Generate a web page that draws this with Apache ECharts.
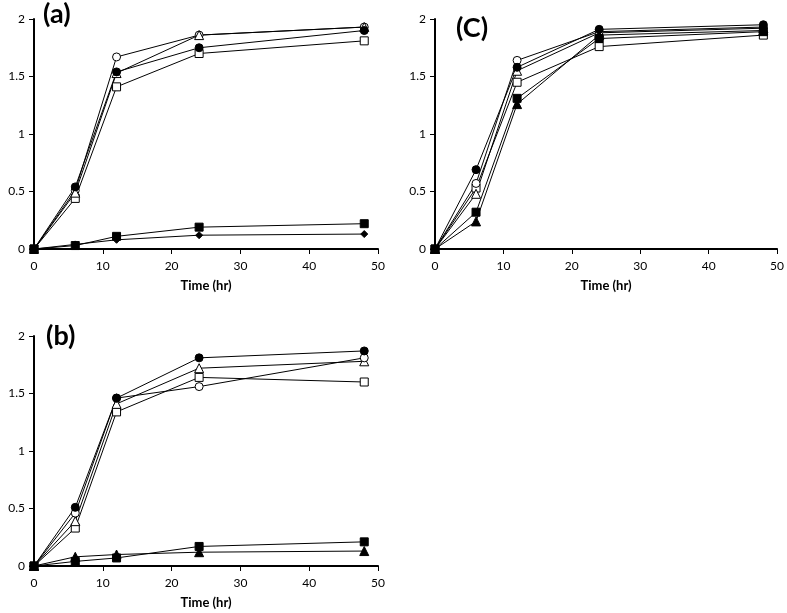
<!DOCTYPE html>
<html><head><meta charset="utf-8">
<script src="https://cdn.jsdelivr.net/npm/echarts@6/dist/echarts.min.js"></script>
<style>html,body{margin:0;padding:0;background:#fff}#c{width:787px;height:613px}</style>
</head><body><div id="c"></div>
<script>
const times = [0, 6, 12, 24, 48];
const xTicks = [0, 10, 20, 30, 40, 50];
const yTicks = [0, 0.5, 1, 1.5, 2];
const panelLabels = ['(a)', '(C)', '(b)'];
const xName = 'Time (hr)';

// Panel (a)
const a_openCircle   = [0, 0.51, 1.67, 1.86, 1.93];
const a_openTriangle = [0, 0.49, 1.53, 1.86, 1.93];
const a_filledCircle = [0, 0.54, 1.54, 1.75, 1.90];
const a_openSquare   = [0, 0.44, 1.41, 1.70, 1.81];
const a_filledSquare = [0, 0.03, 0.11, 0.19, 0.22];
const a_diamond      = [0, 0.04, 0.08, 0.12, 0.13];

// Panel (C)
const c_filledCircle   = [0, 0.69, 1.58, 1.91, 1.95];
const c_openCircle     = [0, 0.57, 1.64, 1.89, 1.93];
const c_openTriangle   = [0, 0.48, 1.55, 1.88, 1.92];
const c_openSquare     = [0, 0.53, 1.45, 1.76, 1.86];
const c_filledSquare   = [0, 0.32, 1.31, 1.83, 1.89];
const c_filledTriangle = [0, 0.24, 1.26, 1.86, 1.90];

// Panel (b)
const b_filledCircle   = [0, 0.51, 1.46, 1.81, 1.87];
const b_openCircle     = [0, 0.46, 1.46, 1.56, 1.81];
const b_openTriangle   = [0, 0.39, 1.41, 1.72, 1.78];
const b_openSquare     = [0, 0.33, 1.34, 1.64, 1.60];
const b_filledSquare   = [0, 0.04, 0.07, 0.17, 0.21];
const b_filledTriangle = [0, 0.08, 0.10, 0.12, 0.13];

const FONT = 'Lato, "Open Sans", sans-serif';
const styles = {
  openCircle:     {symbol: 'circle',   size: 8, fill: '#fff'},
  filledCircle:   {symbol: 'circle',   size: 8, fill: '#000'},
  openTriangle:   {symbol: 'triangle', size: 9, fill: '#fff'},
  filledTriangle: {symbol: 'triangle', size: 9, fill: '#000'},
  openSquare:     {symbol: 'rect',     size: 8, fill: '#fff'},
  filledSquare:   {symbol: 'rect',     size: 8, fill: '#000'},
  diamond:        {symbol: 'diamond',  size: 7, fill: '#000'}
};
function mk(vals, kind, idx) {
  const s = styles[kind];
  return {
    type: 'line', xAxisIndex: idx, yAxisIndex: idx,
    data: times.map((t, i) => [t, vals[i]]),
    symbol: s.symbol, symbolSize: s.size, showAllSymbol: true,
    itemStyle: {color: s.fill, borderColor: '#000', borderWidth: 1},
    lineStyle: {color: '#000', width: 1},
    emphasis: {disabled: true}, silent: true, animation: false, z: 3
  };
}
const grids = [
  {left: 34, top: 19, width: 344, height: 230},
  {left: 435, top: 19, width: 343, height: 230},
  {left: 34, top: 336, width: 344, height: 230}
];
const xAxes = grids.map((g, i) => ({
  type: 'value', gridIndex: i, min: xTicks[0], max: xTicks[xTicks.length - 1], interval: 10,
  name: xName, nameLocation: 'middle', nameGap: 30,
  nameTextStyle: {fontFamily: FONT, fontWeight: 'bold', fontSize: 13, color: '#000'},
  axisLine: {lineStyle: {color: '#000', width: 2}},
  axisTick: {show: true, inside: false, length: 5, lineStyle: {color: '#000', width: 1}},
  axisLabel: {fontFamily: FONT, fontSize: 12, color: '#000', margin: 11},
  splitLine: {show: false}
}));
const yAxes = grids.map((g, i) => ({
  type: 'value', gridIndex: i, min: yTicks[0], max: yTicks[yTicks.length - 1], interval: 0.5,
  axisLine: {show: true, lineStyle: {color: '#000', width: 2}},
  axisTick: {show: true, inside: false, length: 5, lineStyle: {color: '#000', width: 1}},
  axisLabel: {fontFamily: FONT, fontSize: 12, color: '#000', margin: 9},
  splitLine: {show: false}
}));
const series = [
  mk(a_openSquare, 'openSquare', 0),
  mk(a_openCircle, 'openCircle', 0),
  mk(a_openTriangle, 'openTriangle', 0),
  mk(a_filledCircle, 'filledCircle', 0),
  mk(a_diamond, 'diamond', 0),
  mk(a_filledSquare, 'filledSquare', 0),

  mk(c_openSquare, 'openSquare', 1),
  mk(c_openTriangle, 'openTriangle', 1),
  mk(c_openCircle, 'openCircle', 1),
  mk(c_filledTriangle, 'filledTriangle', 1),
  mk(c_filledSquare, 'filledSquare', 1),
  mk(c_filledCircle, 'filledCircle', 1),

  mk(b_openSquare, 'openSquare', 2),
  mk(b_openTriangle, 'openTriangle', 2),
  mk(b_openCircle, 'openCircle', 2),
  mk(b_filledTriangle, 'filledTriangle', 2),
  mk(b_filledSquare, 'filledSquare', 2),
  mk(b_filledCircle, 'filledCircle', 2)
];
const chart = echarts.init(document.getElementById('c'), null, {renderer: 'canvas'});
chart.setOption({
  backgroundColor: '#fff',
  animation: false,
  grid: grids,
  xAxis: xAxes,
  yAxis: yAxes,
  series: series,
  graphic: [
    {type: 'text', left: 43, top: 1, style: {text: panelLabels[0], font: 'bold 27px ' + FONT, fill: '#000'}},
    {type: 'text', left: 456, top: 15, style: {text: panelLabels[1], font: 'bold 27px ' + FONT, fill: '#000'}},
    {type: 'text', left: 46, top: 323, style: {text: panelLabels[2], font: 'bold 27px ' + FONT, fill: '#000'}}
  ]
});
</script></body></html>
